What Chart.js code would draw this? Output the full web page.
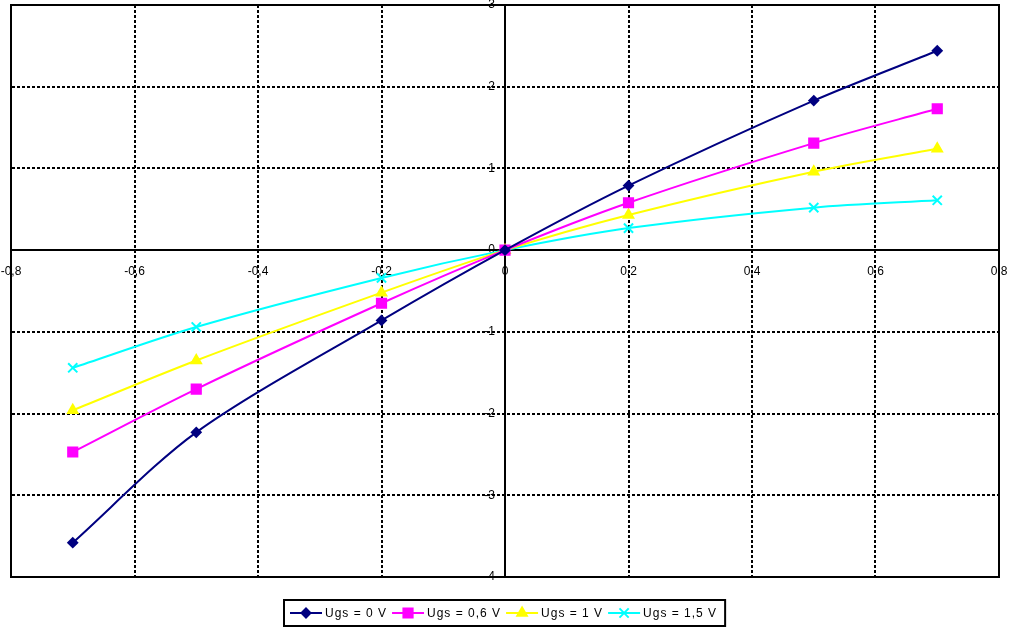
<!DOCTYPE html>
<html>
<head>
<meta charset="utf-8">
<script src="https://cdn.jsdelivr.net/npm/chart.js@4.4.1/dist/chart.umd.min.js"></script>
<style>
    html, body { margin: 0; padding: 0; background: #fff; }
    #wrap { width: 1010px; height: 628px; position: relative; }
</style>
</head>
<body>
<div id="wrap"><canvas id="kennlinie"></canvas></div>
<script>
// ================= DATEN =================

const uds = [-0.7, -0.5, -0.2, 0, 0.2, 0.5, 0.7];

const ugs0  = [-3.58, -2.23, -0.86, 0, 0.79, 1.83, 2.44];
const ugs06 = [-2.47, -1.70, -0.65, 0, 0.58, 1.31, 1.73];
const ugs1  = [-1.96, -1.35, -0.52, 0, 0.43, 0.96, 1.24];
const ugs15 = [-1.44, -0.94, -0.34, 0, 0.27, 0.52, 0.61];

const namen = ["Ugs = 0 V", "Ugs = 0,6 V", "Ugs = 1 V", "Ugs = 1,5 V"];

const xMin = -0.8, xMax = 0.8, xStep = 0.2;
const yMin = -4, yMax = 3, yStep = 1;

// ================= HILFEN =================

function punkte(werte)
{
    return uds.map((x, i) => ({ x: x, y: werte[i] }));
}

function zahl(v)
{
    if (Math.abs(v) < 1e-9)
        return "0";
    return (Math.round(v * 10) / 10).toString().replace(".", ",");
}

const stile =
[
    { farbe: "#000080", punkt: "rectRot",  radius: 4.5 },
    { farbe: "#ff00ff", punkt: "rect",     radius: 6.5 },
    { farbe: "#ffff00", punkt: "triangle", radius: 5.5 },
    { farbe: "#00ffff", punkt: "crossRot", radius: 6.5 }
];

const reihen = [ugs0, ugs06, ugs1, ugs15];

const schrift = { family: "'Liberation Sans', Arial, sans-serif", size: 12 };

// ================= RAHMEN / ACHSE =================

// y-Achse sitzt bei x = 0: rechte Kante der Skala auf die Null der x-Skala legen
const achse = {
    id: "achse",
    afterLayout(chart)
    {
        const y = chart.scales.y;
        const x0 = chart.scales.x.getPixelForValue(0);
        y.left = 0;
        y.right = x0;
        y._labelItems = null;
        y._gridLineItems = null;
    },
    beforeDatasetsDraw(chart)
    {
        const a = chart.chartArea;
        const ctx = chart.ctx;
        ctx.save();
        ctx.strokeStyle = "#000";
        ctx.lineWidth = 2;
        ctx.strokeRect(a.left, a.top, a.right - a.left, a.bottom - a.top);
        ctx.restore();
    }
};

// ================= LEGENDE =================

const legende = {
    id: "legende",
    afterDraw(chart)
    {
        const ctx = chart.ctx;
        ctx.save();
        ctx.font = "12px 'Liberation Sans', Arial, sans-serif";
        ctx.letterSpacing = "1px";
        ctx.textBaseline = "middle";

        const linie = 32, luecke = 3, abstand = 5, rand = 6;
        let breite = rand * 2 + 2;
        const textBreiten = chart.data.datasets.map(d => ctx.measureText(d.label).width);
        textBreiten.forEach((w, i) => {
            breite += linie + luecke + w + (i < textBreiten.length - 1 ? abstand : 0);
        });

        const hoehe = 26;
        const x0 = Math.round(chart.width / 2 - breite / 2);
        const y0 = 600;
        const ym = y0 + hoehe / 2;

        ctx.strokeStyle = "#000";
        ctx.lineWidth = 2;
        ctx.strokeRect(x0, y0, breite, hoehe);

        let x = x0 + rand;
        chart.data.datasets.forEach((d, i) => {
            ctx.strokeStyle = d.borderColor;
            ctx.lineWidth = 2;
            ctx.beginPath();
            ctx.moveTo(x, ym);
            ctx.lineTo(x + linie, ym);
            ctx.stroke();

            Chart.helpers.drawPoint(ctx, {
                pointStyle: d.pointStyle,
                radius: d.pointRadius,
                rotation: 0,
                borderWidth: 2
            }, x + linie / 2, ym);
            ctx.fillStyle = d.backgroundColor;
            ctx.strokeStyle = d.borderColor;
            ctx.fill();

            ctx.fillStyle = "#000";
            ctx.fillText(d.label, x + linie + luecke, ym + 1);
            x += linie + luecke + textBreiten[i] + abstand;
        });

        ctx.restore();
    }
};

// ================= GRAFIK =================

new Chart(document.getElementById("kennlinie"),
{
    type: "line",
    data:
    {
        datasets: reihen.map((werte, i) => ({
            label: namen[i],
            data: punkte(werte),
            borderColor: stile[i].farbe,
            backgroundColor: stile[i].farbe,
            borderWidth: 2,
            pointStyle: stile[i].punkt,
            pointRadius: stile[i].radius,
            pointBorderWidth: 2,
            tension: 0.3
        }))
    },
    options:
    {
        responsive: true,
        maintainAspectRatio: false,
        animation: false,
        layout:
        {
            autoPadding: false,
            padding: { left: 11, right: 11, top: 5, bottom: 51 }
        },
        plugins:
        {
            legend: { display: false },
            tooltip: { enabled: false }
        },
        scales:
        {
            x:
            {
                type: "linear",
                position: { y: 0 },
                min: xMin,
                max: xMax,
                afterFit(s) { s.height = 0; s.paddingLeft = 0; s.paddingRight = 0; },
                ticks:
                {
                    stepSize: xStep,
                    autoSkip: false,
                    maxRotation: 0,
                    padding: 14,
                    color: "#000",
                    font: schrift,
                    callback: v => zahl(v)
                },
                grid:
                {
                    color: "#000",
                    lineWidth: 2,
                    drawTicks: false
                },
                border: { display: true, color: "#000", width: 2, dash: [3, 2] }
            },
            y:
            {
                type: "linear",
                position: "left",
                min: yMin,
                max: yMax,
                afterFit(s) { s.width = 0; s.paddingTop = 0; s.paddingBottom = 0; },
                ticks:
                {
                    stepSize: yStep,
                    autoSkip: false,
                    padding: 10,
                    color: "#000",
                    font: schrift,
                    callback: v => zahl(v)
                },
                grid:
                {
                    color: "#000",
                    lineWidth: 2,
                    drawTicks: false
                },
                border: { display: true, color: "#000", width: 2, dash: [3, 2] }
            }
        }
    },
    plugins: [achse, legende]
});
</script>
</body>
</html>
